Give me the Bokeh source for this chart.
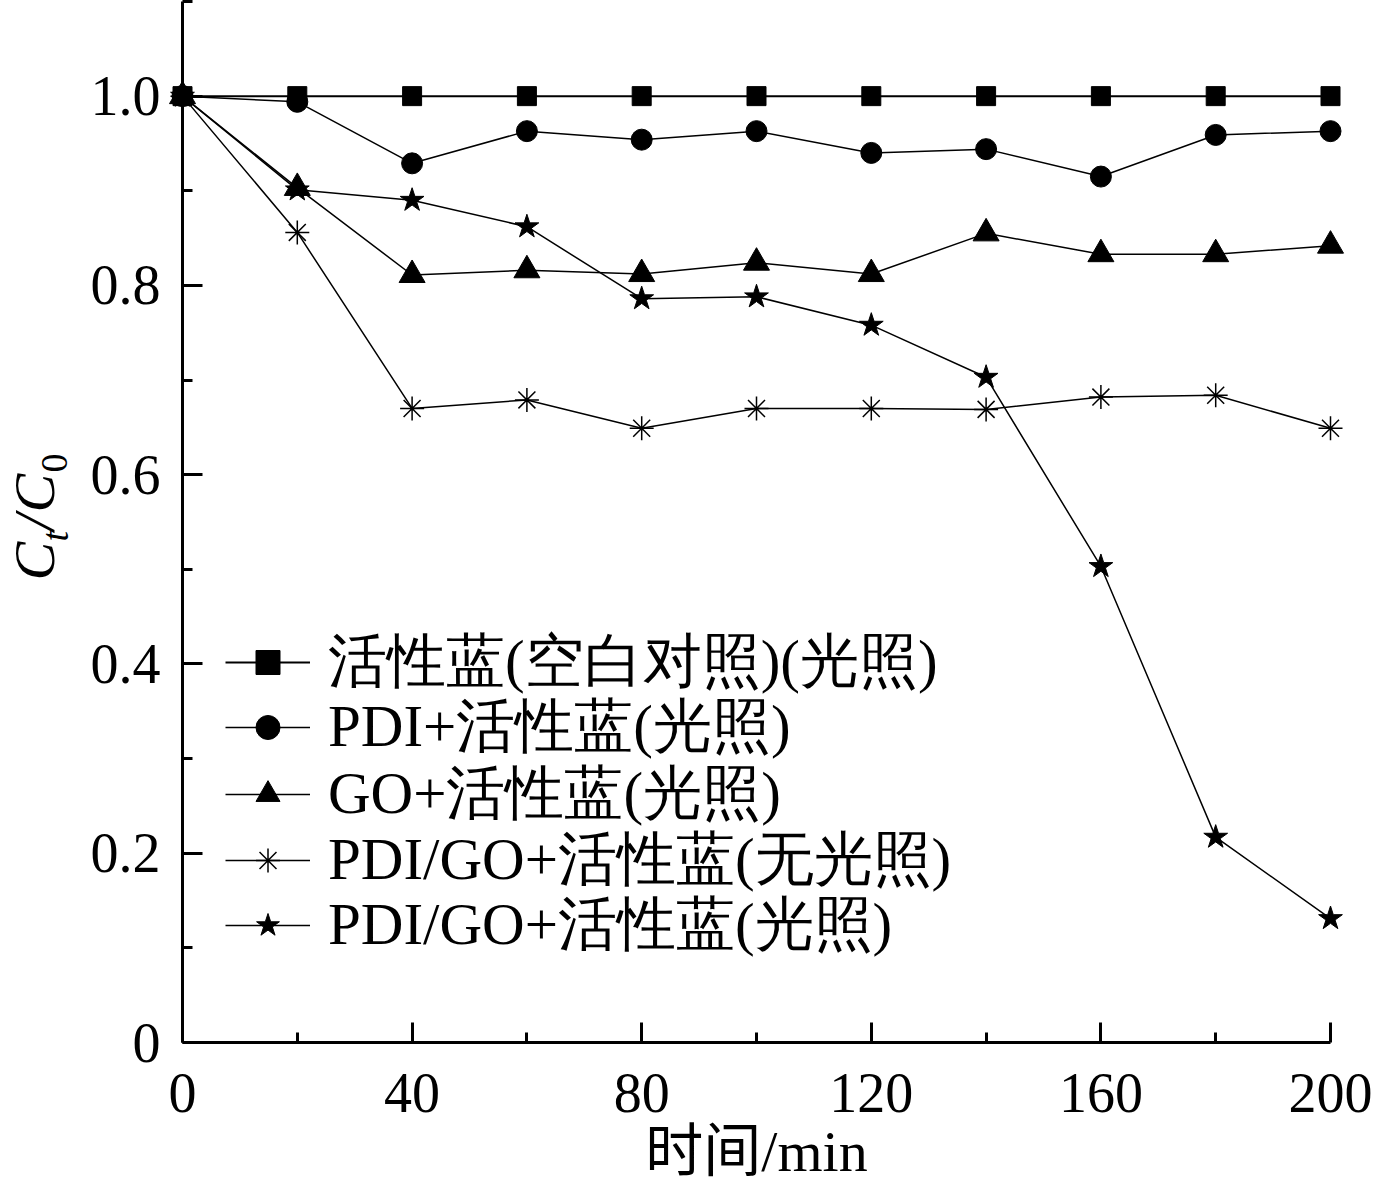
from bokeh.plotting import figure
from bokeh.models import Range1d, FixedTicker, Legend, LegendItem, ColumnDataSource
from bokeh.core.properties import value
from bokeh.embed import file_html
from bokeh.resources import INLINE
import math

# ---------------- data ----------------
time_min = [0, 20, 40, 60, 80, 100, 120, 140, 160, 180, 200]
blank_light = [1.0, 1.0, 1.0, 1.0, 1.0, 1.0, 1.0, 1.0, 1.0, 1.0, 1.0]
pdi_light = [1.0, 0.994, 0.929, 0.963, 0.954, 0.963, 0.940, 0.944, 0.915, 0.959, 0.963]
go_light = [1.0, 0.903, 0.811, 0.816, 0.812, 0.824, 0.812, 0.855, 0.833, 0.833, 0.842]
pdigo_dark = [1.0, 0.856, 0.670, 0.679, 0.649, 0.670, 0.670, 0.669, 0.682, 0.684, 0.649]
pdigo_light = [1.0, 0.901, 0.890, 0.862, 0.786, 0.788, 0.758, 0.703, 0.503, 0.217, 0.131]

series_names = ["活性蓝(空白对照)(光照)", "PDI+活性蓝(光照)", "GO+活性蓝(光照)",
                "PDI/GO+活性蓝(无光照)", "PDI/GO+活性蓝(光照)"]
x_major = [0, 40, 80, 120, 160, 200]
x_minor = [20, 60, 100, 140, 180]
y_major = [0, 0.2, 0.4, 0.6, 0.8, 1.0]
y_minor = [0.1, 0.3, 0.5, 0.7, 0.9, 1.1]
y_tick_labels = ["0", "0.2", "0.4", "0.6", "0.8", "1.0"]
x_title = "时间/min"
y_title_parts = ["C", "t", "/", "C", "0"]

SERIF = "Liberation Serif"
MIXED = "Liberation Serif, Noto Sans CJK SC"

p = figure(width=1375, height=1187, output_backend="svg", toolbar_location=None,
           x_range=Range1d(0, 200), y_range=Range1d(0, 1.1),
           min_border_left=182, min_border_right=45, min_border_top=1,
           min_border_bottom=145)
p.outline_line_color = None
p.grid.visible = False
p.background_fill_color = "white"
p.border_fill_color = "white"

series = [blank_light, pdi_light, go_light, pdigo_dark, pdigo_light]
markers = ["square", "circle", "triangle", "asterisk", "star"]
msizes = [19, 21, 26, 24, 25]
lwidths = [2.0, 1.5, 1.5, 1.5, 1.5]
# legend rows: bottom-left corner of each one-item legend, pixels from the frame's corner
legend_rows_y = [340, 275, 208, 142, 77]

for ys, mk, sz, lw, name, ly in zip(series, markers, msizes, lwidths, series_names,
                                    legend_rows_y):
    src = ColumnDataSource(dict(t=time_min, c=ys))
    ln = p.line("t", "c", source=src, line_color="black", line_width=lw, level="overlay")
    sc = p.scatter("t", "c", source=src, marker=mk, size=sz, fill_color="black",
                   line_color="black", line_width=1.5 if mk == "asterisk" else 1,
                   level="overlay")
    lg = Legend(items=[LegendItem(label=name, renderers=[ln, sc])], location=(43, ly),
                orientation="vertical", padding=0, margin=0, spacing=0,
                glyph_width=85, glyph_height=60, label_height=60, label_standoff=18,
                label_text_font=SERIF, label_text_font_size="59px",
                label_text_color="black", label_text_baseline="middle",
                border_line_color=None, background_fill_alpha=0)
    p.add_layout(lg)

for ax in (p.xaxis[0], p.yaxis[0]):
    ax.axis_line_width = 3
    ax.axis_line_color = "black"
    ax.major_tick_line_width = 3
    ax.minor_tick_line_width = 3
    ax.major_tick_line_color = "black"
    ax.minor_tick_line_color = "black"
    ax.major_tick_in = 20
    ax.major_tick_out = 0
    ax.minor_tick_in = 10
    ax.minor_tick_out = 0
    ax.major_label_text_font = SERIF
    ax.major_label_text_font_size = "56px"
    ax.major_label_text_color = "black"

p.xaxis.ticker = FixedTicker(ticks=x_major, minor_ticks=x_minor)
p.yaxis.ticker = FixedTicker(ticks=y_major, minor_ticks=y_minor)
p.yaxis.major_label_overrides = dict(zip(y_major, y_tick_labels))
p.xaxis.major_label_standoff = 31
p.yaxis.major_label_standoff = 22

# x axis title, anchored at the middle of the x axis, offset below it (pixels)
p.text(x=[100], y=[0], text=[x_title], x_offset=0, y_offset=109,
       text_align="center", text_baseline="alphabetic",
       text_font=value(MIXED), text_font_size="58px", text_color="black",
       level="overlay")

# y axis title C_t/C_0, rotated, anchored at the axes corner with pixel offsets
ysrc = ColumnDataSource(dict(
    x=[0, 0, 0, 0, 0], y=[0, 0, 0, 0, 0], text=y_title_parts,
    xo=[-148, -128, -148, -148, -128],
    yo=[-462, -501, -512, -530, -570],
    fs=["58px", "38px", "58px", "58px", "38px"],
    st=["italic", "italic", "italic", "italic", "normal"]))
p.text(x="x", y="y", text="text", source=ysrc, x_offset="xo", y_offset="yo",
       angle=math.pi / 2, text_align="left", text_baseline="alphabetic",
       text_font=value(SERIF), text_font_size="fs", text_font_style="st",
       text_color="black", level="overlay")

open("out.html", "w").write(file_html(p, INLINE))
